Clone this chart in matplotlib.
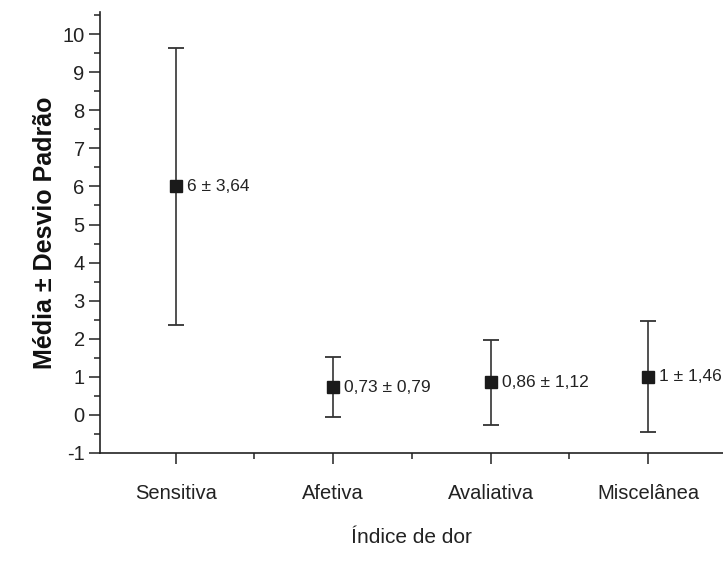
import matplotlib
matplotlib.use("Agg")
import matplotlib.pyplot as plt
from matplotlib.ticker import MultipleLocator, FixedLocator

plt.rcParams['font.family'] = ['Liberation Sans', 'DejaVu Sans']
plt.rcParams['axes.unicode_minus'] = False

categories = ["Sensitiva", "Afetiva", "Avaliativa", "Miscelânea"]
means = [6, 0.73, 0.86, 1]
sds = [3.64, 0.79, 1.12, 1.46]
labels = ["6 ± 3,64", "0,73 ± 0,79", "0,86 ± 1,12", "1 ± 1,46"]

fig = plt.figure(figsize=(7.23, 5.64), dpi=100)
ax = fig.add_axes([100/723, (564-453)/564, 623/723, (453-12)/564])

x = list(range(1, len(categories) + 1))
ax.errorbar(x, means, yerr=sds, fmt='s', color='#1a1a1a', ecolor='#333333',
            markersize=8.5, elinewidth=1.2, capsize=5.5, capthick=1.3)
for xi, m, lab in zip(x, means, labels):
    ax.annotate(lab, (xi, m), xytext=(8, 0), textcoords='offset points',
                va='center', ha='left', fontsize=12.5, color='#222222')

ax.set_xlim(0.52, 0.52 + 623/157.5)
ax.set_ylim(-1, 10.58)
ax.set_xticks(x)
ax.set_xticklabels(categories)
ax.xaxis.set_minor_locator(FixedLocator([1.5, 2.5, 3.5, 4.5]))
ax.yaxis.set_major_locator(MultipleLocator(1))
ax.yaxis.set_minor_locator(MultipleLocator(0.5))
ax.tick_params(axis='both', which='major', length=8, width=1.1, direction='out',
               labelsize=14.5, colors='#222222', pad=3)
ax.tick_params(axis='x', which='major', labelsize=14.5, pad=14.5)
ax.tick_params(axis='both', which='minor', length=4.5, width=1.1, direction='out', colors='#222222')
ax.spines['top'].set_visible(False)
ax.spines['right'].set_visible(False)
for s in ['left', 'bottom']:
    ax.spines[s].set_linewidth(1.2)
    ax.spines[s].set_color('#222222')

ax.set_ylabel("Média ± Desvio Padrão", fontsize=18, fontweight='bold', labelpad=4, color='#111111')
ax.set_xlabel("Índice de dor", fontsize=15, labelpad=18, color='#222222')

fig.savefig("out.png", dpi=100)
